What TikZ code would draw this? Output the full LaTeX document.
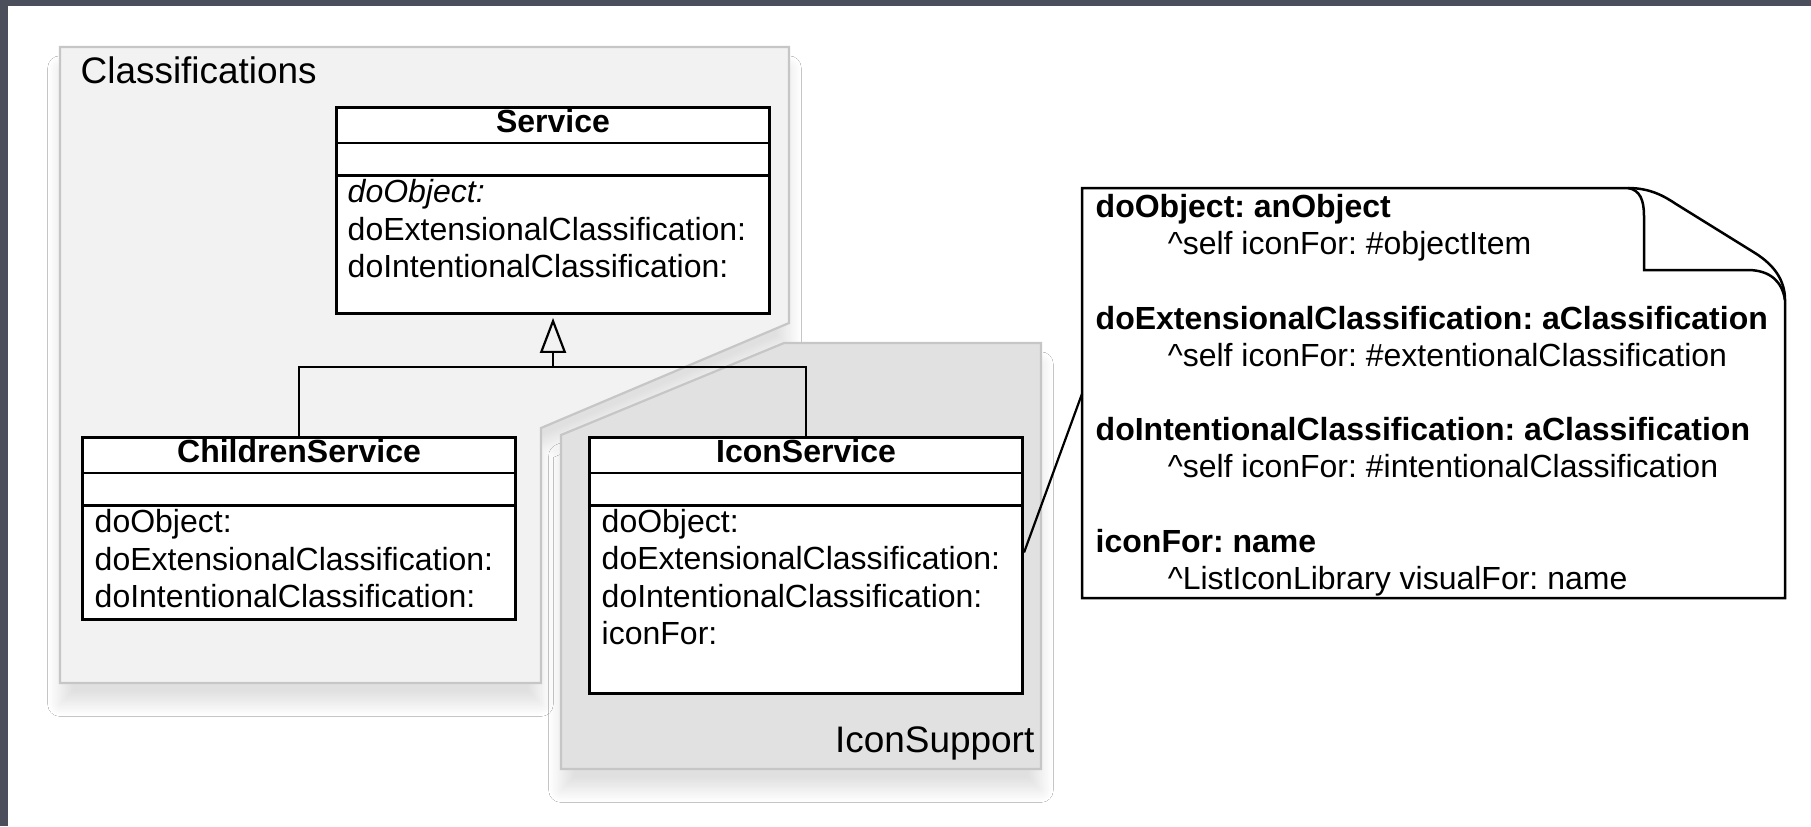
\documentclass[tikz,border=0pt]{standalone}
\usepackage{fontspec}
\setmainfont{Liberation Sans}
\usetikzlibrary{positioning,arrows.meta,shadows.blur}
\frenchspacing

\definecolor{slate}{HTML}{4B4E5B}
\definecolor{pkgline}{HTML}{C6C6C6}
\definecolor{pkglight}{HTML}{F2F2F2}
\definecolor{pkgdark}{HTML}{E1E1E1}

\newcommand{\umlfont}{\fontsize{9.1pt}{10.55pt}\selectfont}
\newcommand{\pkgfont}{\fontsize{10.5pt}{12pt}\selectfont}

\tikzset{
  package/.style={draw=pkgline, line width=0.022cm,
    blur shadow={shadow xshift=0pt, shadow yshift=-6pt, shadow blur radius=3.5pt,
      shadow blur steps=20, shadow opacity=12}},
  pkglabel/.style={font=\pkgfont, inner sep=0pt},
  classbox/.style={draw, fill=white, line width=0.028cm, anchor=north west,
    inner sep=0pt, minimum width=4.33cm},
  classname/.style={font=\umlfont\bfseries, anchor=base, inner sep=0pt},
  methods/.style={font=\umlfont, anchor=base west, align=left, inner sep=0pt},
  compart/.style={line width=0.028cm},
  generalize/.style={line width=0.022cm, shorten >=0.03cm,
    -{Triangle[open, length=0.35cm, width=0.26cm, line width=0.022cm]}},
  link/.style={line width=0.022cm},
  notebody/.style={font=\umlfont, anchor=base west, align=left, inner sep=0pt}
}

\begin{document}
\begin{tikzpicture}[x=0.01cm, y=-0.01cm]
  \useasboundingbox (0,0) rectangle (1811,826);
  \fill[white] (0,0) rectangle (1811,826);
  \fill[slate] (0,0) rectangle (1811,6);
  \fill[slate] (0,0) rectangle (8,826);

  % packages
  \filldraw[package, fill=pkglight] (60,47) -- (789,47) -- (789,323) -- (541,428)
    -- (541,683) -- (60,683) -- cycle;
  \filldraw[package, fill=pkgdark] (561,435) -- (784,343) -- (1041,343)
    -- (1041,769) -- (561,769) -- cycle;
  \node[pkglabel, anchor=base west] (classifications) at (80,83) {Classifications};
  \node[pkglabel, anchor=base east] (iconsupport) at (1035,752) {IconSupport};

  % classes
  \node[classbox, minimum height=2.06cm] (service) at (335,106) {};
  \node[classbox, minimum height=1.82cm] (children) at (81,436) {};
  \node[classbox, minimum height=2.56cm] (iconsvc) at (588,436) {};

  \foreach \c in {service, children, iconsvc} {
    \draw[compart] ([yshift=-0.37cm]\c.north west) -- ([yshift=-0.37cm]\c.north east);
    \draw[compart] ([yshift=-0.695cm]\c.north west) -- ([yshift=-0.695cm]\c.north east);
  }

  \node[classname] (servicename) at ([yshift=-0.26cm]service.north) {Service};
  \node[classname] (childrenname) at ([yshift=-0.26cm]children.north) {ChildrenService};
  \node[classname] (iconsvcname) at ([yshift=-0.26cm]iconsvc.north) {IconService};

  % base of a multi-line node is its last line
  \node[methods] (serviceops) at ([xshift=0.12cm,yshift=-1.71cm]service.north west)
    {\textit{doObject:}\\doExtensionalClassification:\\doIntentionalClassification:};
  \node[methods] (childrenops) at ([xshift=0.13cm,yshift=-1.71cm]children.north west)
    {doObject:\\doExtensionalClassification:\\doIntentionalClassification:};
  \node[methods] (iconsvcops) at ([xshift=0.13cm,yshift=-2.08cm]iconsvc.north west)
    {doObject:\\doExtensionalClassification:\\doIntentionalClassification:\\iconFor:};

  % inheritance
  \coordinate (bus) at ([yshift=-0.52cm]service.south);
  \draw[link] (children.north) |- (bus) -| (iconsvc.north);
  \draw[generalize] (bus) -- (service.south);

  % note
  \node[inner sep=0pt, minimum width=7.03cm, minimum height=4.10cm, anchor=north west]
    (note) at (1082,188) {};
  \draw[line width=0.025cm, fill=white] (1082,188) -- (1628,188)
    .. controls (1650,188) and (1664,196) .. (1676,204) -- (1755,253)
    .. controls (1774,265) and (1785,280) .. (1785,300) -- (1785,598)
    -- (1082,598) -- cycle;
  \draw[line width=0.025cm] (1628,188) .. controls (1640,190) and (1644,200) .. (1644,216)
    -- (1644,270) -- (1750,270) .. controls (1770,271) and (1782,281) .. (1785,300);
  \node[notebody] (notetext) at ([xshift=0.13cm,yshift=-4.01cm]note.north west)
    {\textbf{doObject: anObject}\\
     \hspace*{0.72cm}\textasciicircum self iconFor: \#objectItem\\[10.61pt]
     \textbf{doExtensionalClassification: aClassification}\\
     \hspace*{0.72cm}\textasciicircum self iconFor: \#extentionalClassification\\[10.61pt]
     \textbf{doIntentionalClassification: aClassification}\\
     \hspace*{0.72cm}\textasciicircum self iconFor: \#intentionalClassification\\[10.61pt]
     \textbf{iconFor: name}\\
     \hspace*{0.72cm}\textasciicircum ListIconLibrary visualFor: name};

  \draw[link] ([yshift=0.13cm]iconsvc.east) -- (note.west);
\end{tikzpicture}
\end{document}
